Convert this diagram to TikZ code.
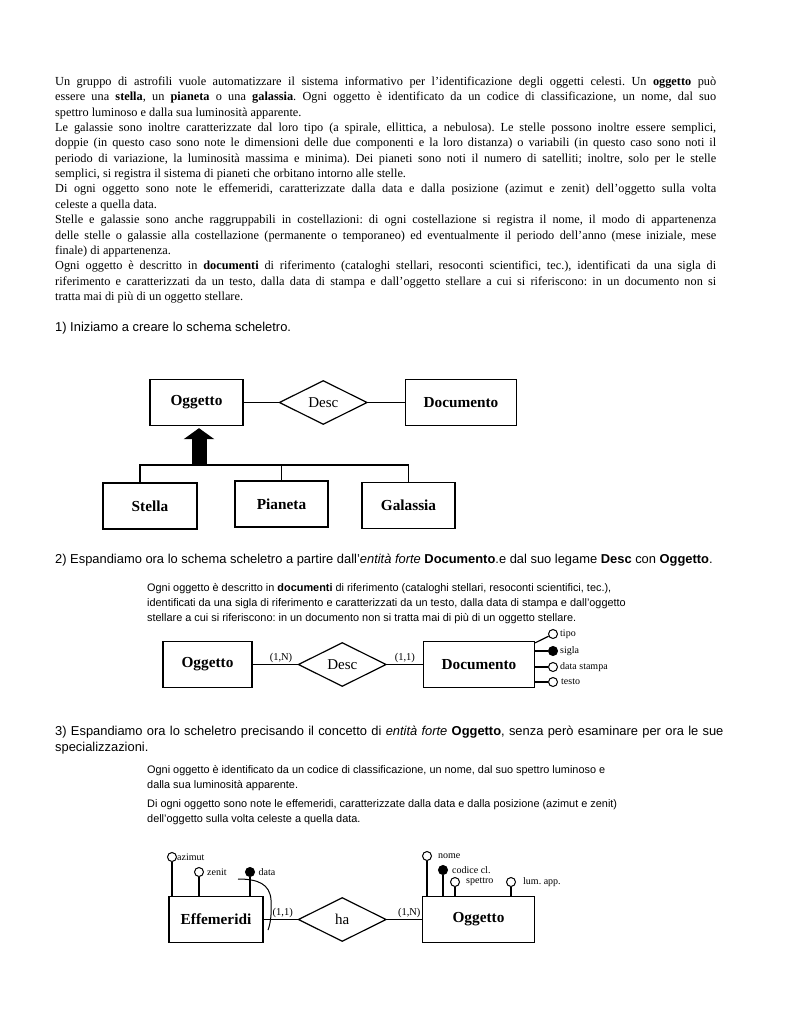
\documentclass[tikz,border=0pt]{standalone}
\usepackage{fontspec}
\setmainfont{Liberation Serif}
\setsansfont{Liberation Sans}
\usetikzlibrary{arrows.meta, positioning, shapes.geometric}
\frenchspacing

\begin{document}
\begin{tikzpicture}[
    x=1pt, y=-1pt,
    entity/.style={
        rectangle, draw, line width=1.3pt, minimum width=#1,
        minimum height=46pt, inner sep=0pt,
        font=\fontsize{15.3}{18}\selectfont\bfseries
    },
    entity/.default={93pt},
    rel/.style={
        diamond, draw, line width=1.2pt, minimum width=88pt,
        minimum height=44pt, inner sep=0pt, aspect=2,
        font=\fontsize{15}{18}\selectfont
    },
    attr/.style={
        circle, draw, line width=1pt, minimum size=9pt,
        inner sep=0pt, fill=#1
    },
    attr/.default={white},
    attrlabel/.style={font=\fontsize{10}{12}\selectfont, inner sep=0pt},
    card/.style={font=\fontsize{10.5}{12}\selectfont, inner sep=1pt},
    link/.style={line width=1.2pt},
    bodytext/.style={
        anchor=north west, inner sep=0pt, text width=661pt, align=justify,
        font=\fontsize{12.3}{15.35}\selectfont
    },
    heading/.style={
        anchor=base west, inner sep=0pt,
        font=\sffamily\fontsize{12.9}{16}\selectfont
    },
    excerpt/.style={
        anchor=north west, inner sep=0pt, align=left,
        font=\sffamily\fontsize{10.9}{15}\selectfont
    }
]
\useasboundingbox[fill=white] (0,0) rectangle (791,1024);

% Problem statement
\node[bodytext] (intro) at (55,74.6) {\tolerance=9999\hyphenpenalty=10000\parindent=0pt
\strut Un gruppo di astrofili vuole automatizzare il sistema informativo per l’identificazione degli oggetti celesti. Un \textbf{oggetto} può\linebreak
essere una \textbf{stella}, un \textbf{pianeta} o una \textbf{galassia}. Ogni oggetto è identificato da un codice di classificazione, un nome, dal suo\linebreak
spettro luminoso e dalla sua luminosità apparente.\par
Le galassie sono inoltre caratterizzate dal loro tipo (a spirale, ellittica, a nebulosa). Le stelle possono inoltre essere semplici,\linebreak
doppie (in questo caso sono note le dimensioni delle due componenti e la loro distanza) o variabili (in questo caso sono noti il\linebreak
periodo di variazione, la luminosità massima e minima). Dei pianeti sono noti il numero di satelliti; inoltre, solo per le stelle\linebreak
semplici, si registra il sistema di pianeti che orbitano intorno alle stelle.\par
Di ogni oggetto sono note le effemeridi, caratterizzate dalla data e dalla posizione (azimut e zenit) dell’oggetto sulla volta\linebreak
celeste a quella data.\par
Stelle e galassie sono anche raggruppabili in costellazioni: di ogni costellazione si registra il nome, il modo di appartenenza\linebreak
delle stelle o galassie alla costellazione (permanente o temporaneo) ed eventualmente il periodo dell’anno (mese iniziale, mese\linebreak
finale) di appartenenza.\par
Ogni oggetto è descritto in \textbf{documenti} di riferimento (cataloghi stellari, resoconti scientifici, tec.), identificati da una sigla di\linebreak
riferimento e caratterizzati da un testo, dalla data di stampa e dall’oggetto stellare a cui si riferiscono: in un documento non si\linebreak
tratta mai di più di un oggetto stellare.};

% --- 1) skeleton ---
\node[heading] (head1) at (55,331) {1) Iniziamo a creare lo schema scheletro.};

\node[entity] (ogg1) at (196.5,402.5) {Oggetto};
\node[rel, right=35pt of ogg1] (desc1) {Desc};
\node[entity=111pt, right=37pt of desc1] (doc1) {Documento};
\node[entity=94pt] (stella) at (150,506) {Stella};
\node[entity] (pianeta) at (281.5,504) {Pianeta};
\node[entity] (galassia) at (408.5,505.5) {Galassia};

\draw[link] (ogg1) -- (desc1);
\draw[link] (desc1) -- (doc1);

% generalisation
\coordinate (isa) at (199,465);
\draw[link] ([xshift=-10pt]stella.north) |- (isa) -| (galassia.north);
\draw[link] (pianeta.north) -- (pianeta.north |- isa);
\draw[line width=15pt, -{Triangle[width=30pt, length=11pt]}]
    (isa) -- ([yshift=-2pt]isa |- ogg1.south);

% --- 2) Documento ---
\node[heading] (head2) at (55,563)
    {2) Espandiamo ora lo schema scheletro a partire dall’\textit{entità forte} \textbf{Documento}.e dal suo legame \textbf{Desc} con \textbf{Oggetto}.};
\node[excerpt] (text2) at (147,581) {\strut Ogni oggetto è descritto in \textbf{documenti} di riferimento (cataloghi stellari, resoconti scientifici, tec.),\\
    identificati da una sigla di riferimento e caratterizzati da un testo, dalla data di stampa e dall’oggetto\\
    stellare a cui si riferiscono: in un documento non si tratta mai di più di un oggetto stellare.};

\node[entity=89pt] (ogg2) at (207.5,664.5) {Oggetto};
\node[rel, right=45pt of ogg2] (desc2) {Desc};
\node[entity=111pt, right=36pt of desc2] (doc2) {Documento};

\draw[link] (ogg2) -- node[card, above, pos=0.63] {(1,N)} (desc2);
\draw[link] (desc2) -- node[card, above] {(1,1)} (doc2);

\node[attr] (tipo) at (553,634) {};
\node[attr=black] (sigla) at (553,651) {};
\node[attr] (stampa) at (553,667) {};
\node[attr] (testo) at (553,682) {};
\node[attrlabel, right=2pt of tipo] {tipo};
\node[attrlabel, right=2pt of sigla] {sigla};
\node[attrlabel, right=2pt of stampa] {data stampa};
\node[attrlabel, right=3pt of testo] {testo};
\draw[link] ([yshift=-2pt]doc2.north east) -- (tipo);
\foreach \a in {sigla, stampa, testo} {
    \draw[link] (doc2.east |- \a) -- (\a);
}

% --- 3) Oggetto ---
\node[heading, anchor=north west, text width=720pt, align=left] (head3) at (55,723.8)
    {\strut 3) Espandiamo ora lo scheletro precisando il concetto di \textit{entità forte} \textbf{Oggetto}, senza però esaminare per ora le sue\\
    specializzazioni.};
\node[excerpt] (text3) at (147,763) {\strut Ogni oggetto è identificato da un codice di classificazione, un nome, dal suo spettro luminoso e\\
    dalla sua luminosità apparente.\\[4pt]
    Di ogni oggetto sono note le effemeridi, caratterizzate dalla data e dalla posizione (azimut e zenit)\\
    dell’oggetto sulla volta celeste a quella data.};

\node[entity=94pt] (eff) at (216,919.5) {Effemeridi};
\node[rel, right=34pt of eff] (ha) {ha};
\node[entity=112pt, right=35pt of ha] (ogg3) {Oggetto};

\draw[link] (eff) -- node[card, above, pos=0.56] {(1,1)} (ha);
\draw[link] (ha) -- node[card, above, pos=0.64] {(1,N)} (ogg3);

\node[attr] (azimut) at (172,857) {};
\node[attr] (zenit) at (199,872) {};
\node[attr=black] (data) at (250,872) {};
\node[attrlabel, right=0pt of azimut] {azimut};
\node[attrlabel, right=3pt of zenit] {zenit};
\node[attrlabel, right=3.5pt of data] {data};

\node[attr] (nome) at (427,856) {};
\node[attr=black] (codice) at (443,870) {};
\node[attr] (spettro) at (455,882) {};
\node[attr] (lum) at (511,882) {};
\node[attrlabel, right=6pt of nome] {nome};
\node[attrlabel, right=4pt of codice] {codice cl.};
\node[attrlabel, right=6pt of spettro] {spettro};
\node[attrlabel, right=7pt of lum] {lum. app.};

\foreach \a in {azimut, zenit, data} {
    \draw[link] (\a) -- (\a |- eff.north);
}
\foreach \a in {nome, codice, spettro, lum} {
    \draw[link] (\a) -- (\a |- ogg3.north);
}

% external identifier
\coordinate (idstart) at (238,879);
\coordinate (idend) at (268,930);
\draw[line width=1pt] (idstart) .. controls (258,879) and (270,884) .. (271,900)
    .. controls (272,915) and (270,925) .. (idend);

\end{tikzpicture}
\end{document}
